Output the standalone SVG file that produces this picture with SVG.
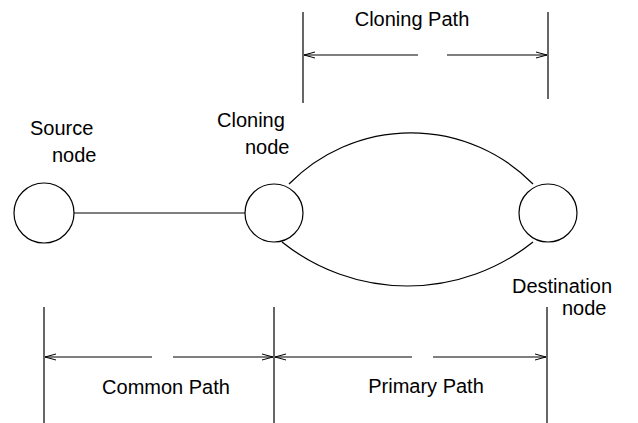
<svg xmlns="http://www.w3.org/2000/svg" width="638" height="423" viewBox="0 0 638 423">
<defs>
<style>
.t{font-family:'Liberation Sans',Arial,sans-serif;font-size:20px;fill:#000}
.l{stroke:#000;stroke-width:1.2;fill:none}
.n{stroke:#000;stroke-width:1.2;fill:#fff}
</style>
<marker id="ah" markerWidth="12" markerHeight="8" refX="11" refY="4" orient="auto" markerUnits="userSpaceOnUse">
<path d="M0,1 L11,4 L0,7" fill="none" stroke="#000" stroke-width="1"/>
</marker>
</defs>
<rect width="638" height="423" fill="#fff"/>
<g id="connectors">
<line class="l" x1="74" y1="213" x2="245" y2="213"/>
<path class="l" d="M289,184 A171,171 0 0 1 533,184"/>
<path class="l" d="M282,242 A201,201 0 0 0 533,242"/>
</g>
<g id="source">
<circle class="n" cx="44" cy="213" r="30"/>
<text class="t" x="30" y="135">Source</text>
<text class="t" x="52" y="162">node</text>
</g>
<g id="cloning">
<circle class="n" cx="274" cy="213" r="29"/>
<text class="t" x="217" y="127">Cloning</text>
<text class="t" x="245" y="154">node</text>
</g>
<g id="destination">
<circle class="n" cx="548" cy="213" r="29"/>
<text class="t" x="512" y="293">Destination</text>
<text class="t" x="562" y="315">node</text>
</g>
<g id="cloning-path">
<line class="l" x1="303" y1="12" x2="303" y2="103"/>
<line class="l" x1="548" y1="12" x2="548" y2="99"/>
<line class="l" x1="418" y1="55" x2="304" y2="55" marker-end="url(#ah)"/>
<line class="l" x1="447" y1="55" x2="547" y2="55" marker-end="url(#ah)"/>
<text class="t" x="412" y="26" text-anchor="middle">Cloning Path</text>
</g>
<g id="common-path">
<line class="l" x1="44" y1="307" x2="44" y2="423"/>
<line class="l" x1="274" y1="307" x2="274" y2="423"/>
<line class="l" x1="152" y1="357" x2="45" y2="357" marker-end="url(#ah)"/>
<line class="l" x1="173" y1="357" x2="273" y2="357" marker-end="url(#ah)"/>
<text class="t" x="166" y="394" text-anchor="middle">Common Path</text>
</g>
<g id="primary-path">
<line class="l" x1="547" y1="307" x2="547" y2="423"/>
<line class="l" x1="412" y1="357" x2="275" y2="357" marker-end="url(#ah)"/>
<line class="l" x1="433" y1="357" x2="546" y2="357" marker-end="url(#ah)"/>
<text class="t" x="426" y="393" text-anchor="middle">Primary Path</text>
</g>
</svg>
